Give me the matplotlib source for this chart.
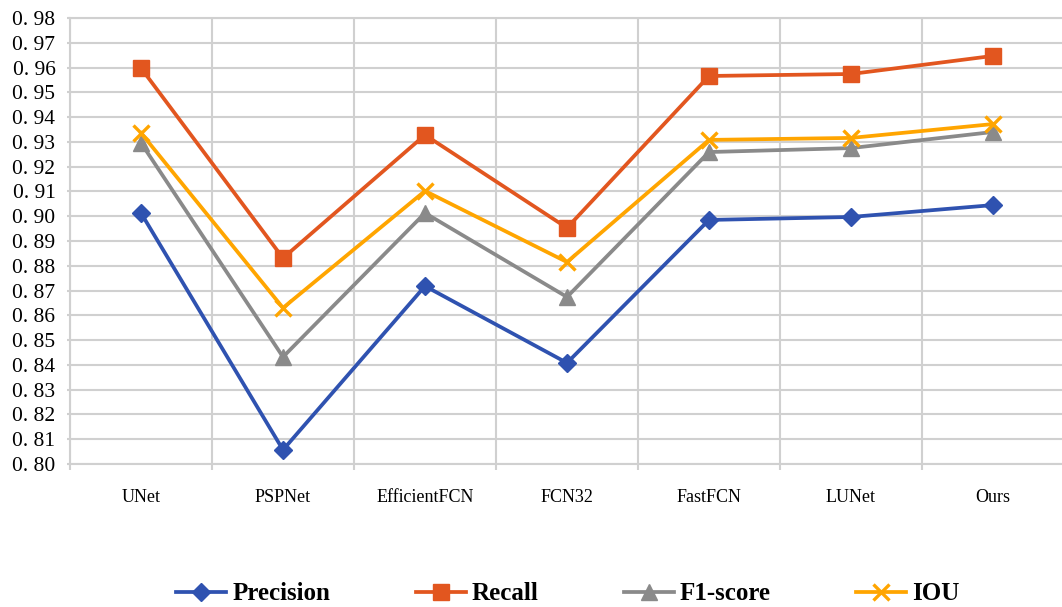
import matplotlib
matplotlib.use("Agg")
import matplotlib.pyplot as plt
import numpy as np
from matplotlib.ticker import FixedLocator

categories = ["UNet", "PSPNet", "EfficientFCN", "FCN32", "FastFCN", "LUNet", "Ours"]
precision = [0.9013, 0.8057, 0.8718, 0.8408, 0.8985, 0.8997, 0.9045]
recall = [0.9598, 0.8831, 0.9328, 0.8953, 0.9566, 0.9574, 0.9647]
f1_score = [0.9296, 0.8432, 0.9013, 0.8674, 0.9259, 0.9275, 0.9340]
iou = [0.9336, 0.8630, 0.9102, 0.8815, 0.9308, 0.9316, 0.9372]
yticks = [0.80 + 0.01 * i for i in range(19)]
ytick_labels = ["0. %02d" % round(v * 100 % 100) for v in yticks]

grid_c = "#d0d0d0"
fig = plt.figure(figsize=(10.62, 6.07), dpi=100)
ax = fig.add_axes([70 / 1062, 1 - 464 / 607, 994 / 1062, (464 - 18) / 607])

x = np.arange(len(categories))
ax.plot(x, precision, color="#2f52b0", lw=2.7, marker="D", ms=9, label="Precision", zorder=3)
ax.plot(x, recall, color="#e2561f", lw=2.7, marker="s", ms=12, label="Recall", zorder=3)
ax.plot(x, f1_score, color="#8a8a8a", lw=2.7, marker="^", ms=12, label="F1-score", zorder=3)
ax.plot(x, iou, color="#ffa500", lw=2.7, marker="x", ms=12, mew=2.4, label="IOU", zorder=4)

ax.set_xlim(-0.5, len(categories) - 0.5)
ax.set_ylim(0.80, 0.98)
ax.set_yticks(yticks)
ax.set_yticklabels(ytick_labels, fontfamily="Liberation Serif", fontsize=15.5)
ax.set_xticks(x)
ax.set_xticklabels(categories, fontfamily="Liberation Serif", fontsize=13)
ax.xaxis.set_minor_locator(FixedLocator(np.arange(-0.5, len(categories), 1.0)))
ax.tick_params(axis="x", which="major", length=0, pad=18)
ax.tick_params(axis="x", which="minor", length=4, color=grid_c, width=1.5)
ax.tick_params(axis="y", which="major", length=2.5, color=grid_c, width=1.5, pad=8)
ax.grid(axis="y", which="major", color=grid_c, lw=1.5)
ax.grid(axis="x", which="minor", color=grid_c, lw=1.5)
ax.set_axisbelow(True)
for s in ax.spines.values():
    s.set_color(grid_c)
    s.set_linewidth(1.5)

leg = fig.legend(loc="center", bbox_to_anchor=(568 / 1062, 1 - 594 / 607), ncol=4,
                 frameon=False, prop={"family": "Liberation Serif", "weight": "bold", "size": 18},
                 handlelength=2.0, handletextpad=0.25, columnspacing=3.4)

fig.savefig("out.png", dpi=100)
